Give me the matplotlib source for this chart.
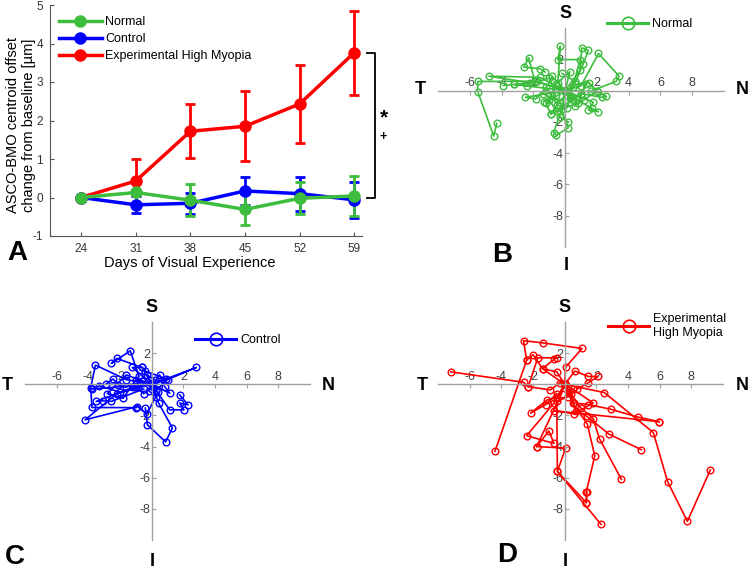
import matplotlib
matplotlib.use("Agg")
import matplotlib.pyplot as plt
from matplotlib.lines import Line2D
import matplotlib.transforms as mtransforms

plt.rcParams['font.family'] = ['Liberation Sans', 'DejaVu Sans']
plt.rcParams['axes.unicode_minus'] = False

# ---------------- Panel A data ----------------
days = [24, 31, 38, 45, 52, 59]
normal_mean = [0, 0.13, -0.07, -0.31, -0.02, 0.04]
normal_err = [0, 0.30, 0.42, 0.40, 0.41, 0.53]
control_mean = [0, -0.19, -0.15, 0.17, 0.10, -0.06]
control_err = [0, 0.22, 0.27, 0.37, 0.44, 0.46]
myopia_mean = [0, 0.43, 1.72, 1.85, 2.43, 3.76]
myopia_err = [0, 0.58, 0.70, 0.91, 1.01, 1.09]
group_names = ["Normal", "Control", "Experimental High Myopia"]

# ---------------- Panels B-D data (per-eye trajectories, µm) ----------------
normal_x = [
    [0, -1.8, -5.5, -5.5, -4.5, -4.3],
    [0, -1.6, -4.8, -2.2, -3.2, -3.9],
    [0, -0.46, -0.3, -0.46, 0.94, 0.3],
    [0, 0.94, 1.05, 1.46, 1.15, 0.5],
    [0, 1.0, 2.1, 3.4, 3.2, 1.6],
    [0, 2.1, 2.6, 2.3, 1.0, 0.5],
    [0, 1.78, 1.46, 2.1, 1.67, 0.4],
    [0, -0.2, -0.73, -0.56, 0.2, -0.3],
    [0, -1.9, -2.3, -2.6, -1.57, -1.26],
    [0, -2.5, -1.84, -1.2, -0.5, -0.9],
    [0, -3.2, -2.4, -1.0, -0.6, -1.3],
    [0, 0.5, -0.5, 0.8, 1.3, 1.0],
    [0, -0.8, -1.4, -0.3, 0.6, -0.2],
    [0, 0.3, -0.6, -1.0, -0.3, 0.2],
    [0, -1.2, -0.9, 0.1, 0.4, -0.5],
    [0, 0.7, 1.5, 2.0, 1.2, 0.6],
]
normal_y = [
    [0, 0.6, 0.58, -0.06, -2.9, -2.1],
    [0, 0.85, 0.92, 0.5, 0.39, 0.32],
    [0, 0.5, 2.84, 1.98, 1.98, -0.5],
    [0, 1.29, 2.73, 2.58, 1.72, 0.2],
    [0, 0.3, 2.37, 0.92, 0.58, -0.04],
    [0, -0.1, -0.37, -0.43, -0.2, -0.6],
    [0, -0.75, -1.23, -1.35, -1.12, -0.4],
    [0, -1.2, -2.69, -2.86, -2.37, -1.0],
    [0, 0.6, 2.1, 1.5, 1.4, 1.18],
    [0, -0.43, -0.54, 0.2, -0.9, -1.5],
    [0, 0.39, 0.32, 0.8, -0.3, -0.7],
    [0, -0.5, -1.3, -0.8, 0.4, -0.3],
    [0, 0.9, -0.2, -0.7, 0.6, 1.1],
    [0, 1.2, 0.4, -0.6, -1.7, -2.0],
    [0, -0.8, -1.5, -1.1, -0.4, 0.1],
    [0, 0.4, 0.5, 0.0, -0.6, -1.0],
]

control_x = [
    [0, -0.6, -2.2, -2.55, -1.35, -0.8],
    [0, -1.6, -3.55, -3.85, -3.77, -1.0],
    [0, -2.2, -4.2, -0.9, -0.3, 0.4],
    [0, -1.2, -3.5, -3.1, -2.55, -0.5],
    [0, -2.9, -2.44, -2.1, -1.64, -0.6],
    [0, -1.22, -0.59, -0.4, 0.93, 0.4],
    [0, 2.82, 1.0, 0.3, -0.3, 0.2],
    [0, 0.44, 1.31, 0.88, -0.27, -0.4],
    [0, 1.14, 2.04, 1.77, 2.3, 1.77],
    [0, 1.14, 0.82, 0.5, -0.2, 0.3],
    [0, -3.8, -3.3, -2.0, -1.0, -0.5],
    [0, -1.6, -2.8, -1.8, -1.0, 0.1],
]
control_y = [
    [0, 1.08, 1.66, 1.34, 2.15, 0.5],
    [0, 0.3, 1.23, -0.21, -1.49, -1.5],
    [0, -0.6, -2.28, -1.43, -1.91, -0.5],
    [0, -0.2, -1.1, -1.06, -1.1, -0.3],
    [0, 0.0, 0.34, -0.04, -0.19, 0.2],
    [0, 1.08, 1.08, 0.85, 0.34, 0.1],
    [0, 1.08, 0.3, -0.4, 0.6, 0.3],
    [0, -1.21, -2.81, -3.7, -2.6, -1.53],
    [0, -1.64, -1.64, -1.21, -1.32, -0.68],
    [0, -0.57, -0.15, 0.6, -0.4, -0.8],
    [0, -0.3, -0.1, -0.5, -0.2, -0.6],
    [0, 0.6, -0.6, -0.9, 0.3, -0.2],
]

myopia_x = [
    [0, 2.5, 5.6, 6.5, 7.75, 9.2],
    [0, 0.6, 1.5, 2.9, 4.6, 5.96],
    [0, 0.3, 0.7, 1.4, 2.8, 4.84],
    [0, 0.4, 1.0, 1.8, 2.2, 3.58],
    [0, 0.5, 1.43, 1.9, 1.37, 1.37],
    [0, -0.2, -1.77, 0.06, -0.46, 2.3],
    [0, -0.3, -0.9, -2.3, -2.6, -7.2],
    [0, -0.5, -1.4, -2.0, -2.4, -4.4],
    [0, 0.06, 1.1, -1.4, -2.6, -2.4],
    [0, -0.67, -2.4, -0.67, -1.0, -1.77],
    [0, -0.5, -1.1, -2.15, -1.2, -0.5],
    [0, 0.65, 1.5, 2.1, 1.5, 0.8],
    [0, -1.4, -0.67, -0.5, -1.7, -2.3],
    [0, 0.5, 1.8, 0.6, -0.67, 5.96],
    [0, 0.2, -0.5, -0.46, 1.37, 1.4],
]
myopia_y = [
    [0, -0.53, -3.1, -6.25, -8.8, -5.5],
    [0, -1.2, -1.3, -1.6, -2.1, -2.4],
    [0, -0.5, -1.7, -2.06, -3.2, -4.2],
    [0, -0.6, -1.5, -2.2, -3.5, -6.1],
    [0, -1.2, -2.55, -4.6, -6.9, -7.6],
    [0, -0.6, -4.0, -4.1, -5.6, -9.0],
    [0, 0.1, -0.36, -0.15, 0.13, 0.8],
    [0, 0.8, 1.0, 1.9, 1.55, -4.3],
    [0, 1.1, 2.3, 2.66, 2.8, 1.55],
    [0, -1.2, -3.3, -3.8, -3.0, -4.0],
    [0, -0.85, -1.0, -1.85, -1.3, -0.6],
    [0, 0.85, 0.5, 0.5, 0.1, -0.3],
    [0, 1.0, 1.6, 1.7, 1.7, -0.15],
    [0, -0.3, -1.2, -1.9, -1.7, -2.4],
    [0, -0.8, -1.1, -5.6, -7.6, -6.9],
]

GREEN = '#3dbd3d'
BLUE = '#0000ff'
RED = '#ff0000'

W, H = 750, 570
fig = plt.figure(figsize=(W / 100, H / 100), dpi=100)


def px_rect(l, t, r, b):
    return [l / W, 1 - b / H, (r - l) / W, (b - t) / H]


def ftext(x, y, s, **kw):
    fig.text(x / W, 1 - y / H, s, ha='center', va='center', **kw)


# ---------------- Panel A ----------------
axA = fig.add_axes(px_rect(50, 5, 362, 236))
series = [(myopia_mean, myopia_err, RED), (control_mean, control_err, BLUE),
          (normal_mean, normal_err, GREEN)]
for m, e, c in series:
    axA.errorbar(days, m, yerr=e, fmt='none', ecolor=c, elinewidth=2,
                 capsize=3.5, capthick=2, zorder=2)
    axA.plot(days, m, '-o', color=c, lw=2.5, ms=8, zorder=3)
axA.set_xlim(20, 60)
axA.set_ylim(-1, 5)
axA.set_xticks(days)
axA.set_yticks(range(-1, 6))
for s in ['top', 'right']:
    axA.spines[s].set_visible(False)
for s in ['left', 'bottom']:
    axA.spines[s].set_color('#555555')
axA.tick_params(direction='in', length=3, labelsize=8.5, labelcolor='#333333',
                color='#555555', pad=5)
axA.set_ylabel("ASCO-BMO centroid offset\nchange from baseline [µm]", fontsize=10.5)
axA.yaxis.set_label_coords(-0.045, 0.48)
axA.set_xlabel("Days of Visual Experience", fontsize=10.5)
axA.xaxis.set_label_coords(0.449, -0.085)

handlesA = [Line2D([], [], color=c, lw=2.5, marker='o', ms=8)
            for c in [GREEN, BLUE, RED]]
axA.legend(handlesA, group_names, loc='upper left', frameon=False,
           bbox_to_anchor=(59 / W, 1 - 16 / H), bbox_transform=fig.transFigure,
           borderaxespad=0, borderpad=0, handlelength=3.4, handletextpad=0.3,
           labelspacing=0.42, fontsize=9)

# significance bracket
trA = mtransforms.blended_transform_factory(fig.transFigure, axA.transData)
bx0, bx1 = 367 / W, 375 / W
axA.plot([bx0, bx1, bx1, bx0], [myopia_mean[-1], myopia_mean[-1], 0, 0],
         color='black', lw=1.3, transform=trA, clip_on=False)
ftext(384, 118, "*", fontsize=15, fontweight='bold')
ftext(383, 137, "+", fontsize=9, fontweight='bold')


# ---------------- Panels B-D ----------------
def traj_panel(rect, xs_list, ys_list, color, label, leg_xy):
    ax = fig.add_axes(rect)
    for xs, ys in zip(xs_list, ys_list):
        ax.plot(xs, ys, '-o', color=color, lw=1.2, ms=4.8, mfc='none', mew=1.0)
    ax.set_xlim(-8, 10)
    ax.set_ylim(-10, 4)
    ax.spines['right'].set_visible(False)
    ax.spines['bottom'].set_visible(False)
    ax.spines['left'].set_position(('data', 0))
    ax.spines['top'].set_position(('data', 0))
    for s in ['left', 'top']:
        ax.spines[s].set_color('#a0a0a0')
        ax.spines[s].set_linewidth(1.0)
    ax.xaxis.tick_top()
    ax.set_xticks([-6, -4, -2, 2, 4, 6, 8])
    ax.set_yticks([-8, -6, -4, -2, 2])
    ax.tick_params(direction='in', length=3, color='#a0a0a0', labelsize=9,
                   labelcolor='#404040', pad=1)
    ax.patch.set_alpha(0)
    h = Line2D([], [], color=color, lw=2.2, marker='o', ms=9, mfc='none', mew=1.2)
    ax.legend([h], [label], loc='upper left', frameon=False,
              bbox_to_anchor=(leg_xy[0] / W, 1 - leg_xy[1] / H),
              bbox_transform=fig.transFigure, borderaxespad=0, borderpad=0,
              handlelength=3.3, handletextpad=0.3, fontsize=9)
    return ax


traj_panel(px_rect(438, 28, 724, 247), normal_x, normal_y, GREEN, "Normal", (607, 18))
traj_panel(px_rect(25, 322, 310, 540), control_x, control_y, BLUE, "Control", (195, 334))
traj_panel(px_rect(438, 322, 723, 540), myopia_x, myopia_y, RED,
           "Experimental\nHigh Myopia", (608, 313))

# orientation labels
lab_kw = dict(fontsize=13, fontweight='bold')
for (x, y, s) in [(420, 90, 'T'), (742, 90, 'N'), (566, 13, 'S'), (566, 266, 'I'),
                  (7, 386, 'T'), (328, 386, 'N'), (152, 307, 'S'), (152, 561, 'I'),
                  (422, 386, 'T'), (742, 386, 'N'), (565, 307, 'S'), (565, 561, 'I')]:
    ftext(x, y, s, **lab_kw)

# panel letters
for (x, y, s) in [(17, 253, 'A'), (502, 255, 'B'), (15, 557, 'C'), (507, 555, 'D')]:
    ftext(x, y, s, fontsize=20, fontweight='bold')

fig.savefig("out.png", dpi=100)
